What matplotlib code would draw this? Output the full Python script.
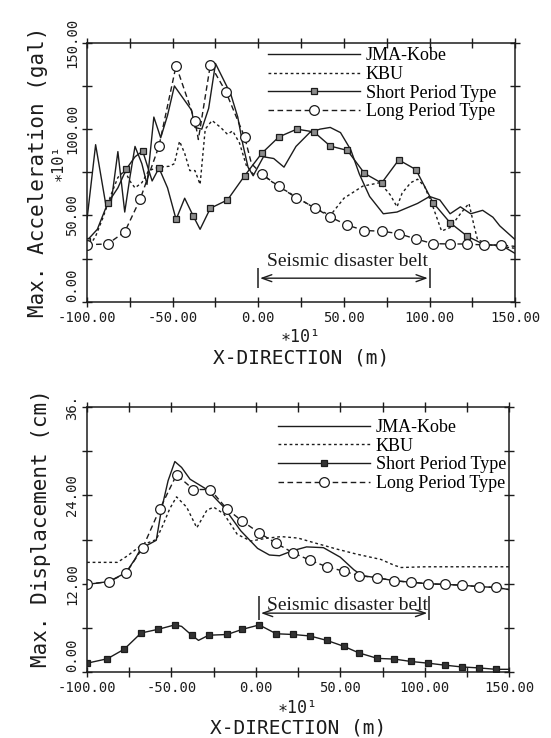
import numpy as np
import matplotlib
matplotlib.use("Agg")
import matplotlib.pyplot as plt

plt.rcParams['font.family'] = ['DejaVu Sans Mono', 'DejaVu Sans']
SERIF = 'Liberation Serif'
INK = '#1c1c1c'

# ---- top panel: max. acceleration (gal), x in units of 10 m ----
x_jma_acc = [-100, -95, -89, -86, -82, -78, -75, -72, -68, -65, -61, -57, -53, -49, -44, -39, -37,
             -33, -29, -25, -20, -16, -12, -9, -6, -3, 3, 9, 15, 22, 30, 36, 42, 48, 54, 59, 65,
             73, 81, 93, 100, 106, 112, 118, 124, 131, 137, 141, 150]
y_jma_acc = [48, 91, 56, 57, 87, 52, 72, 90, 80, 68, 107, 95, 108, 125, 118, 111, 101,
             100, 112, 138, 128, 120, 107, 91, 78, 73, 84, 83, 78, 90, 98, 100, 101, 98, 88, 74, 61,
             51, 52, 57, 61, 59, 51, 55, 51, 53, 49, 44, 36]

x_kbu_acc = [-100, -95, -91, -86, -82, -78, -75, -72, -68, -64, -58, -52, -49, -46, -43, -40, -37,
             -34, -31, -27, -22, -18, -15, -11, -7, -3, 2, 10, 20, 30, 42, 50, 61, 71, 77, 81, 84,
             89, 93, 97, 102, 107, 112, 118, 123, 126, 128, 135, 150]
y_kbu_acc = [30, 38, 48, 62, 72, 76, 70, 66, 69, 76, 78, 78.5, 80, 93, 86, 76, 76,
             68, 100, 105, 101, 97, 99, 92, 79, 74, 74, 68, 62, 56, 50, 60, 67, 69, 62, 55, 63,
             69, 71, 67, 55, 41, 43, 51, 57, 44, 36, 33, 31]

x_sp_acc = [-100, -94, -88, -82, -77, -72, -67.5, -62, -58, -53, -48, -43, -38, -34, -28, -18, -8,
            2, 12, 22.5, 32.5, 42, 52, 62, 72, 82, 92, 102, 112, 122, 132, 142, 150]
y_sp_acc = [35.5, 42, 57, 66, 77, 84, 87.3, 70, 77.5, 66, 47.7, 60, 49.7, 42, 54.2, 59, 73,
            86, 95.5, 100, 98.4, 90.2, 87.7, 74.4, 68.8, 82.2, 76.6, 57.5, 45.8, 38, 33.1, 32.7, 28]
sp_acc_marked = [1, 0, 1, 0, 1, 0, 1, 0, 1, 0, 1, 0, 1, 0, 1, 1, 1,
                 1, 1, 1, 1, 1, 1, 1, 1, 1, 1, 1, 1, 1, 1, 1, 0]

x_lp_acc = [-100, -88, -78, -69, -58, -48, -37, -35, -28, -19, -8, -4, 2, 12, 22, 33, 42, 52,
            62, 72, 82, 92, 102, 112, 122, 132, 142, 150]
y_lp_acc = [33.1, 33.5, 40.5, 59.4, 90.2, 136.8, 104.8, 94, 137.3, 121.8, 95.5, 80, 74, 66.8,
            60.4, 54.5, 49.1, 44.4, 41.3, 40.9, 39.5, 36.4, 33.7, 33.5, 33.5, 32.9, 32.9, 32.1]
lp_acc_marked = [1, 1, 1, 1, 1, 1, 1, 0, 1, 1, 1, 0, 1, 1, 1, 1, 1, 1,
                 1, 1, 1, 1, 1, 1, 1, 1, 1, 0]

# ---- bottom panel: max. displacement (cm) ----
x_jma_dis = [-100, -87, -77, -72, -68, -63, -59, -56, -52, -48, -44, -39, -29, -19, -9, 1, 8, 14,
             22, 30, 40, 50, 58, 63, 72, 82, 92, 102, 112, 122, 132, 142, 150]
y_jma_dis = [11.9, 12.3, 13.5, 15.2, 16.8, 17.4, 17.9, 22, 26, 28.6, 27.8, 26.2, 24.8, 22.4, 19.2,
             16.8, 15.9, 15.8, 16.5, 17.0, 16.9, 15.6, 13.9, 13.1, 12.8, 12.4, 12.2, 12.0, 11.9,
             11.8, 11.6, 11.5, 11.2]

x_kbu_dis = [-100, -82, -76, -68, -59, -55, -51, -47, -41, -35, -29, -25, -19, -11, -3, 7, 15,
             25, 34, 48, 60, 74, 82, 86, 100, 150]
y_kbu_dis = [14.9, 14.9, 15.8, 17.2, 18.0, 20.0, 22.2, 23.8, 22.4, 19.6, 22.0, 22.4, 21.5, 18.7,
             17.8, 18.2, 18.4, 18.2, 17.6, 16.7, 16.0, 15.3, 14.5, 14.2, 14.3, 14.3]

x_sp_dis = [-100, -88, -78, -68, -58, -48, -44, -38, -34, -28, -17, -8, 2, 12, 22, 32, 42, 52,
            61, 72, 82, 92, 102, 112, 122, 132, 142, 150]
y_sp_dis = [1.2, 1.8, 3.1, 5.3, 5.8, 6.4, 6.2, 5.0, 4.3, 5.0, 5.1, 5.8, 6.4, 5.2, 5.1, 4.9, 4.3,
            3.5, 2.6, 1.85, 1.76, 1.43, 1.2, 0.93, 0.69, 0.56, 0.37, 0.37]
sp_dis_marked = [1, 1, 1, 1, 1, 1, 0, 1, 0, 1, 1, 1, 1, 1, 1, 1, 1, 1,
                 1, 1, 1, 1, 1, 1, 1, 1, 1, 0]

x_lp_dis = [-100, -87, -77, -67, -57, -47, -37, -27, -17, -8, 2, 12, 22, 32, 42, 52, 61, 72,
            82, 92, 102, 112, 122, 132, 142, 150]
y_lp_dis = [11.9, 12.3, 13.4, 16.9, 22.1, 26.8, 24.8, 24.8, 22.1, 20.5, 18.9, 17.5, 16.2, 15.2,
            14.3, 13.7, 13.1, 12.8, 12.4, 12.2, 12.0, 11.9, 11.8, 11.6, 11.5, 11.2]
lp_dis_marked = [1] * 25 + [0]

belt_acc = (0, 100)
belt_dis = (2, 102.5)


def idx(flags):
    return [i for i, f in enumerate(flags) if f]


def style_axes(ax, ymax, ystep, ylabels):
    ax.set_xlim(-100, 150)
    ax.set_ylim(0, ymax)
    xt = np.arange(-100, 151, 25)
    ax.set_xticks(xt, [f"{v:.2f}" if v % 50 == 0 else "" for v in xt])
    yt = np.arange(0, ymax + 0.1, ystep)
    ax.set_yticks(yt, ylabels)
    ax.tick_params(direction='inout', length=7, width=1, top=True, right=True,
                   labelsize=10, colors=INK)
    ax.tick_params(axis='x', pad=3)
    ax.tick_params(axis='y', labelrotation=90, pad=2)
    labs = ax.get_yticklabels()
    for lab in labs:
        lab.set_va('center')
    # the zero label sits above its tick, clear of the x labels
    labs[0].set_va('bottom')
    for sp in ax.spines.values():
        sp.set_linewidth(1.1)
        sp.set_color(INK)


def draw(ax, jma, kbu, sp, lp, sp_fill, legend_anchor):
    ax.plot(*jma, color=INK, lw=1.0, label='JMA-Kobe')
    ax.plot(*kbu, color=INK, lw=1.0, ls=(0, (2, 2)), label='KBU')
    ax.plot(sp[0], sp[1], color=INK, lw=1.0, marker='s', ms=5, mfc=sp_fill, mec=INK, mew=0.9,
            markevery=idx(sp[2]), label='Short Period Type')
    ax.plot(lp[0], lp[1], color=INK, lw=1.0, ls=(0, (4, 2.5)), marker='o', ms=7, mfc='white',
            mec=INK, mew=0.9, markevery=idx(lp[2]), label='Long Period Type')
    ax.legend(loc='upper left', bbox_to_anchor=legend_anchor, frameon=False,
              prop={'family': SERIF, 'size': 13}, handlelength=5.1, handletextpad=0.3,
              labelspacing=0.09, borderpad=0, borderaxespad=0)


def belt(ax, xs, y_arrow, y_lo, y_hi, y_text):
    ax.vlines(xs, y_lo, y_hi, color=INK, lw=1.1)
    ax.annotate('', xy=(xs[1] - 1, y_arrow), xytext=(xs[0] + 1, y_arrow),
                arrowprops=dict(arrowstyle='<->, head_length=0.7, head_width=0.25',
                                color=INK, lw=1.0, shrinkA=0, shrinkB=0))
    ax.text((xs[0] + xs[1]) / 2 + 2, y_text, 'Seismic disaster belt', ha='center',
            va='baseline', family=SERIF, fontsize=14, color=INK)


fig = plt.figure(figsize=(5.51, 7.38), dpi=100)
ax1 = fig.add_axes([0.158, 0.591, 0.777, 0.351])
ax2 = fig.add_axes([0.158, 0.0894, 0.766, 0.359])

draw(ax1, (x_jma_acc, y_jma_acc), (x_kbu_acc, y_kbu_acc),
     (x_sp_acc, y_sp_acc, sp_acc_marked), (x_lp_acc, y_lp_acc, lp_acc_marked),
     '0.55', (0.423, 0.982))
style_axes(ax1, 150, 25, ["0.00", "", "50.00", "", "100.00", "", "150.00"])
belt(ax1, belt_acc, 13.7, 7.9, 19.5, 20.8)

draw(ax2, (x_jma_dis, y_jma_dis), (x_kbu_dis, y_kbu_dis),
     (x_sp_dis, y_sp_dis, sp_dis_marked), (x_lp_dis, y_lp_dis, lp_dis_marked),
     '0.2', (0.453, 0.955))
style_axes(ax2, 36, 6, ["0.00", "", "12.00", "", "24.00", "", "36."])
belt(ax2, belt_dis, 8.0, 7.1, 10.3, 8.4)

txt = dict(color=INK, ha='center', va='center')
fig.text(0.069, 0.767, 'Max. Acceleration (gal)', rotation=90, fontsize=15, **txt)
fig.text(0.105, 0.779, '\u221710\u00b9', rotation=90, fontsize=11, **txt)
fig.text(0.546, 0.543, '\u221710\u00b9', fontsize=12, **txt)
fig.text(0.546, 0.515, 'X-DIRECTION (m)', fontsize=14, **txt)
fig.text(0.074, 0.285, 'Max. Displacement (cm)', rotation=90, fontsize=15, **txt)
fig.text(0.541, 0.041, '\u221710\u00b9', fontsize=12, **txt)
fig.text(0.541, 0.0136, 'X-DIRECTION (m)', fontsize=14, **txt)

fig.savefig('out.png', dpi=100)
